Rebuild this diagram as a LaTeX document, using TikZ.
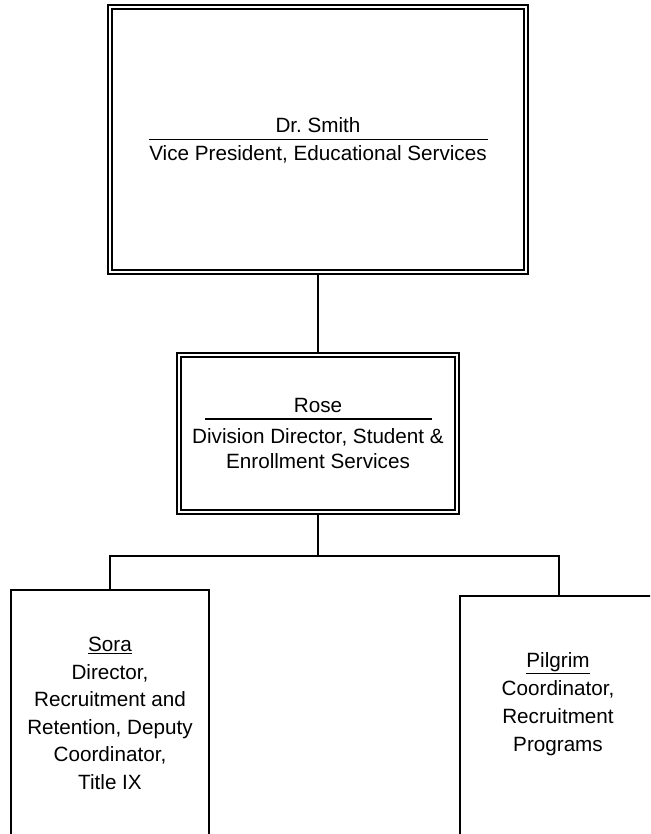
\documentclass[tikz,border=0pt]{standalone}
\usepackage{fontspec}
\setmainfont{Liberation Sans}
\frenchspacing
\tikzset{every picture/.style={line width=0.75pt}}
\tikzset{
  outerbox/.style={draw, line width=0.9pt, inner sep=0pt},
  innerbox/.style={line width=1.6pt},
  plainbox/.style={draw, line width=1.2pt, inner sep=0pt},
  link/.style={line width=1.2pt},
  namerule/.style={line width=1.4pt},
}

\begin{document}
\begin{tikzpicture}[x=0.75pt,y=0.75pt,yscale=-1,xscale=1,font=\fontsize{15.5}{18.75}\selectfont]
\useasboundingbox (0,0) rectangle (650,834);
\clip (0,0) rectangle (650,834);
%Shape: Rectangle [id:dp2290418735106543]
\node [outerbox, minimum width=315pt, minimum height=201.75pt] (smith) at (318,139.5) {};
\draw [innerbox] ([shift={(5,5)}]smith.north west) rectangle ([shift={(-5,-5)}]smith.south east);
%Shape: Rectangle [id:dp7731805264982214]
\node [outerbox, minimum width=211.5pt, minimum height=120.75pt] (rose) at (318,433.5) {};
\draw [innerbox] ([shift={(5,5)}]rose.north west) rectangle ([shift={(-5,-5)}]rose.south east);
%Shape: Rectangle [id:dp5083316627419870]
\node [plainbox, minimum width=148.5pt, minimum height=225pt] (sora) at (110,740) {};
%Shape: Rectangle [id:dp9316052247718861]
\node [plainbox, minimum width=148.5pt, minimum height=225pt] (pilgrim) at (559,746) {};

%Straight Lines
\coordinate (bus) at (318,556);
\draw [link] (smith) -- (rose);
\draw [link] (rose) -- (bus);
\draw [link] (bus) -| (sora);
\draw [link] (bus) -| (pilgrim);

% Text Node
\draw (318,133) node [anchor=base][inner sep=0pt] (smithname) {Dr. Smith};
\draw [namerule] (149,139.5) -- (488,139.5);
% Text Node
\draw (318,161) node [anchor=base][inner sep=0pt] (smithtitle) {Vice President, Educational Services};
% Text Node
\draw (318,412) node [anchor=base][inner sep=0pt] (rosename) {Rose};
\draw [namerule] (205,419) -- (432,419);
% Text Node
\draw (318,468) node [anchor=base][inner sep=0pt,align=center] (rosetitle) {Division Director, Student \&\\Enrollment Services};
% Text Node
\draw (110,789) node [anchor=base][inner sep=0pt,align=center,font=\fontsize{15.5}{20.6}\selectfont] (soratext) {\underline{Sora}\\Director,\\Recruitment and\\Retention, Deputy\\Coordinator,\\Title IX};
% Text Node
\draw (558,751) node [anchor=base][inner sep=0pt,align=center,font=\fontsize{15.5}{21}\selectfont] (pilgrimtext) {\underline{Pilgrim}\\Coordinator,\\Recruitment\\Programs};
\end{tikzpicture}
\end{document}
